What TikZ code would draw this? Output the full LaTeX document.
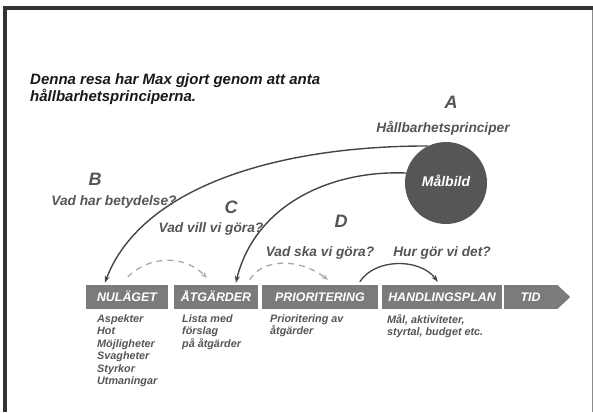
\documentclass[tikz,border=0pt]{standalone}
\usepackage{fontspec}
\setmainfont{Liberation Sans}
\usetikzlibrary{arrows.meta,calc}
\definecolor{framedark}{HTML}{333333}
\definecolor{framelight}{HTML}{8A8A8A}
\definecolor{boxgray}{HTML}{7B7B7B}
\definecolor{txtgray}{HTML}{555555}
\definecolor{circgray}{HTML}{565656}
\definecolor{linedark}{HTML}{444444}
\definecolor{dashgray}{HTML}{A8A8A8}
\begin{document}
\begin{tikzpicture}[x=1pt,y=-1pt,
  stagebox/.style={fill=boxgray, text=white, minimum height=24pt, inner sep=0pt,
    text height=9pt, text depth=0pt, font=\fontsize{12.4}{14}\selectfont\bfseries\itshape},
  sublabel/.style={anchor=north west, align=left, inner sep=0pt, text=txtgray,
    font=\fontsize{10.8}{12.5}\selectfont\bfseries\itshape},
  question/.style={anchor=base, inner sep=0pt, text=txtgray,
    font=\fontsize{13.7}{16}\selectfont\bfseries\itshape},
  letter/.style={anchor=base, inner sep=0pt, text=txtgray,
    font=\fontsize{18}{20}\selectfont\bfseries\itshape},
  titletext/.style={anchor=base west, inner sep=0pt, text=black!90,
    font=\fontsize{15}{17}\selectfont\bfseries\itshape},
  bigarrow/.style={draw=linedark, line width=1.4pt, -{Stealth[length=7pt,width=5pt]}},
  dasharrow/.style={draw=dashgray, line width=1.3pt, dash pattern=on 6pt off 5pt,
    -{Stealth[length=6pt,width=5pt]}},
]
\useasboundingbox (0,0) rectangle (593,412);
% frame
\draw[framedark, line width=4pt] (5,412) -- (5,8) -- (593,8);
\draw[framelight, line width=1pt] (592,10) -- (592,412);

% title
\node[titletext] (title1) at (30,84) {Denna resa har Max gjort genom att anta};
\node[titletext] (title2) at (30,101) {hållbarhetsprinciperna.};

% letters and questions
\node[letter] (la) at (451,108) {A};
\node[question] (qa) at (443,132) {Hållbarhetsprinciper};
\node[letter] (lb) at (95,185) {B};
\node[question] (qb) at (114,205) {Vad har betydelse?};
\node[letter] (lc) at (231,213) {C};
\node[question] (qc) at (211,232) {Vad vill vi göra?};
\node[letter] (ld) at (341,227) {D};
\node[question] (qd) at (320,256) {Vad ska vi göra?};
\node[question] (qe) at (442,256) {Hur gör vi det?};

% circle
\node[circle, fill=circgray, minimum size=82pt, inner sep=0pt, text=white,
  font=\fontsize{14}{16}\selectfont\bfseries\itshape] (malbild) at (446,183) {\raisebox{4pt}{Målbild}};

% stage boxes
\node[stagebox, minimum width=82pt] (nulaget) at (127,297) {NULÄGET};
\node[stagebox, minimum width=84pt] (atgarder) at (216,297) {ÅTGÄRDER};
\node[stagebox, minimum width=116pt] (prior) at (320,297) {PRIORITERING};
\node[stagebox, minimum width=120pt] (handl) at (442,297) {HANDLINGSPLAN};
\node[stagebox, minimum width=53pt] (tid) at (530.5,297) {TID};
\fill[boxgray] (tid.north east) -- ($(tid.east)+(13,0)$) -- (tid.south east) -- cycle;

% sub labels
\node[sublabel] (nulsub) at (97,314) {Aspekter\\Hot\\Möjligheter\\Svagheter\\Styrkor\\Utmaningar};
\node[sublabel] (atgsub) at (182,314) {Lista med\\förslag\\på åtgärder};
\node[sublabel] (priosub) at (270,314) {Prioritering av\\åtgärder};
\node[sublabel] (handsub) at (387,314) {Mål, aktiviteter,\\styrtal, budget etc.};

% connectors
\draw[bigarrow] (malbild.116) .. controls (270,146) and (140,190) .. ($(nulaget.north west)+(19,-2)$);
\draw[bigarrow] (malbild.166) .. controls (330,170) and (255,205) .. ($(atgarder.north west)+(62,-2)$);
\draw[dasharrow] ($(nulaget.north west)+(42,-8)$) .. controls (150,255) and (185,255) .. ($(atgarder.north west)+(33,-7)$);
\draw[dasharrow] ($(atgarder.north west)+(76,-5)$) .. controls (262,258) and (300,258) .. ($(prior.north west)+(66,-5)$);
\draw[bigarrow, line width=1.3pt] ($(prior.north west)+(98,-3)$) .. controls (375,258) and (420,258) .. ($(handl.north west)+(56,-3)$);
\end{tikzpicture}
\end{document}
